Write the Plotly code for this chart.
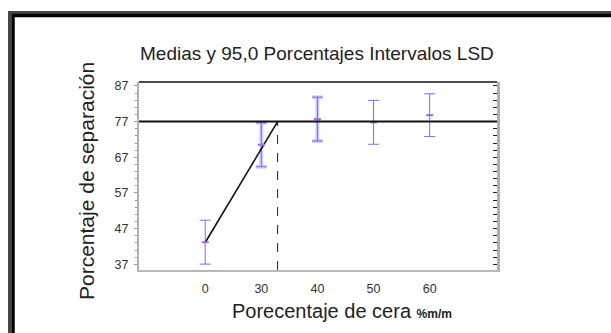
import numpy as np
import plotly.graph_objects as go

# Datos: porcentaje de cera, medias e intervalos LSD (95 %)
cera_labels = ["0", "30", "40", "50", "60"]
cera_values = [0, 30, 40, 50, 60]
medias = [43.2, 70.5, 77.7, 76.8, 78.8]
lsd_half = [6.15, 6.15, 6.15, 6.15, 6.0]
resaltados = [1, 2]            # intervalos dibujados con banda ancha
nivel_ref = 77.0               # nivel de separación de referencia
cera_corte = 32.9              # % de cera donde la recta alcanza el nivel
recta_y = [43.1, 77.0]         # recta desde 0 % hasta el corte
y_ticks = [37, 47, 57, 67, 77, 87]

W, H = 611, 333
L, R, T, B = 139, 497, 82, 270
y_range = [35.4, 88.1]
x_range = [-1.18, 5.2]

pos = list(range(len(cera_values)))


def cat_pos(v):
    return float(np.interp(v, cera_values, pos))


def px(x):
    return (x - L) / (R - L)


def py(y):
    return (B - y) / (B - T)


font = "Liberation Sans, Arial, sans-serif"
x_corte = cat_pos(cera_corte)

fig = go.Figure()

# banda ancha de los intervalos resaltados
fig.add_trace(go.Scatter(
    x=[pos[i] for i in resaltados],
    y=[medias[i] for i in resaltados],
    mode="markers", marker=dict(size=1, opacity=0),
    error_y=dict(type="data", array=[lsd_half[i] for i in resaltados],
                 color="rgba(160,160,255,0.5)", thickness=4, width=5),
    showlegend=False, hoverinfo="skip"))

# intervalos LSD
fig.add_trace(go.Scatter(
    x=pos, y=medias, mode="markers", marker=dict(size=1, opacity=0),
    error_y=dict(type="data", array=lsd_half, color="#6e6eff",
                 thickness=1, width=5.5),
    showlegend=False, hoverinfo="skip"))

# recta desde 0 % hasta el corte
fig.add_trace(go.Scatter(
    x=[pos[0], x_corte], y=recta_y, mode="lines",
    line=dict(color="#111111", width=1.6),
    showlegend=False, hoverinfo="skip"))

# medias
fig.add_trace(go.Scatter(
    x=pos, y=medias, mode="markers",
    marker=dict(symbol="line-ew-open", size=5,
                line=dict(color="#7a1f55", width=2)),
    showlegend=False))

# eje derecho (solo marcas)
fig.add_trace(go.Scatter(
    x=pos, y=medias, yaxis="y2", mode="markers",
    marker=dict(size=1, opacity=0), showlegend=False, hoverinfo="skip"))

shapes = [
    # nivel de referencia
    dict(type="line", xref="paper", yref="y", x0=0, x1=1,
         y0=nivel_ref, y1=nivel_ref, line=dict(color="#111111", width=2)),
    # línea vertical en el corte
    dict(type="line", xref="x", yref="y", x0=x_corte, x1=x_corte,
         y0=y_range[0], y1=nivel_ref,
         line=dict(color="#222222", width=1, dash="dash")),
    # borde superior del gráfico
    dict(type="line", xref="paper", yref="paper", x0=0, x1=1, y0=1, y1=1,
         line=dict(color="#111111", width=1.5)),
    # marco exterior
    dict(type="rect", xref="paper", yref="paper",
         x0=px(9.5), y0=py(12.5), x1=px(900), y1=py(700),
         line=dict(color="#454545", width=3)),
    dict(type="rect", xref="paper", yref="paper",
         x0=px(13), y0=py(15.5), x1=px(900), y1=py(700),
         line=dict(color="#000000", width=3.5)),
]

annotations = [
    dict(text="Medias y 95,0 Porcentajes Intervalos LSD",
         xref="paper", yref="paper", x=px(317), y=py(54),
         xanchor="center", yanchor="middle", showarrow=False,
         font=dict(family=font, size=19, color="#222222")),
    dict(text="Porcentaje de separación",
         xref="paper", yref="paper", x=px(86), y=py(181),
         xanchor="center", yanchor="middle", textangle=-90, showarrow=False,
         font=dict(family=font, size=21, color="#222222")),
    dict(text="Porecentaje de cera <b><span style='font-size:12px'>%m/m</span></b>",
         xref="paper", yref="paper", x=px(230), y=py(311),
         xanchor="left", yanchor="middle", showarrow=False,
         font=dict(family=font, size=20, color="#222222")),
]

fig.update_layout(
    width=W, height=H,
    margin=dict(l=L, r=W - R, t=T, b=H - B, pad=0),
    paper_bgcolor="white", plot_bgcolor="white",
    showlegend=False,
    shapes=shapes, annotations=annotations,
    xaxis=dict(range=x_range, tickmode="array", tickvals=pos,
               ticktext=cera_labels, ticks="", showgrid=False,
               zeroline=False, showline=True, linecolor="#b8b8b8",
               linewidth=1.5, ticklabelstandoff=6,
               tickfont=dict(family=font, size=12.5, color="#333333")),
    yaxis=dict(range=y_range, tickmode="array", tickvals=y_ticks,
               ticks="outside", ticklen=3, tickcolor="#9a9a9a",
               showgrid=False, zeroline=False, showline=True,
               linecolor="#b0b0b0", linewidth=2, ticklabelstandoff=3,
               minor=dict(tick0=37, dtick=2, ticks="outside", ticklen=2,
                          tickcolor="#9a9a9a"),
               tickfont=dict(family=font, size=12.5, color="#333333")),
    yaxis2=dict(range=y_range, overlaying="y", side="right",
                tickmode="array", tickvals=y_ticks, ticks="inside",
                ticklen=4, tickcolor="#222222", showticklabels=False,
                showgrid=False, zeroline=False, showline=True,
                linecolor="#b0b0b0", linewidth=3,
                minor=dict(tick0=37, dtick=2, ticks="inside", ticklen=4,
                           tickcolor="#222222")),
)

fig.write_html("out.html")
